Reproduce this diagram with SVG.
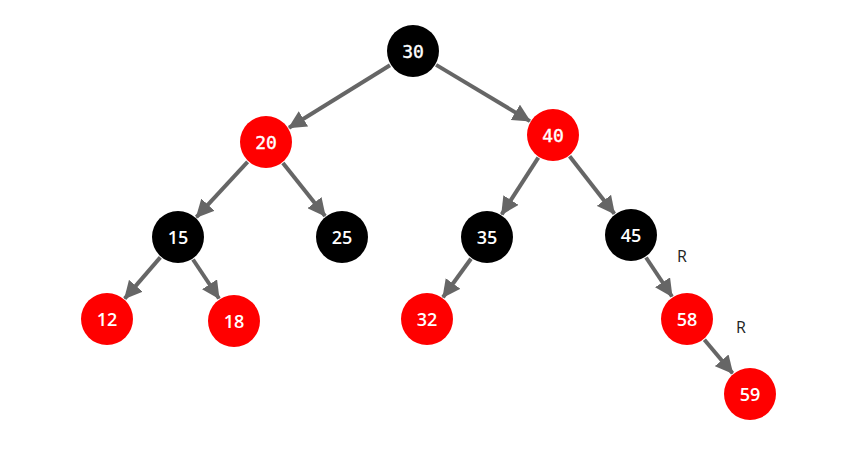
<svg xmlns="http://www.w3.org/2000/svg" width="851" height="451" viewBox="0 0 851 451">
<style>
.e{stroke:#666;stroke-width:4;fill:none;marker-end:url(#ah)}
.b{fill:#000}
.r{fill:#f00}
.t{fill:#fff;font-family:"Open Sans","Liberation Sans",sans-serif;font-size:18px;font-weight:600;text-anchor:middle;dominant-baseline:central}
.m{font-family:"DejaVu Sans Mono","Liberation Mono",monospace;font-weight:normal;font-size:18px;stroke:#fff;stroke-width:0.4}
.l{fill:#222;font-family:"Open Sans","Liberation Sans",sans-serif;font-size:16px;text-anchor:middle;dominant-baseline:central}
</style>
<defs>
<marker id="ah" markerUnits="userSpaceOnUse" markerWidth="18" markerHeight="18" viewBox="0 0 18 18" refX="17" refY="9" orient="auto">
<path d="M0,0 L18,9 L0,18 z" fill="#666"/>
</marker>
</defs>
<g id="connectors">
<line class="e" x1="390" y1="65.2" x2="289" y2="127.8"/>
<line class="e" x1="436.1" y1="64.9" x2="529.9" y2="121.1"/>
<line class="e" x1="247.6" y1="161.8" x2="196.4" y2="217.2"/>
<line class="e" x1="282.9" y1="163.1" x2="325.1" y2="215.9"/>
<line class="e" x1="538.3" y1="157.7" x2="501.7" y2="214.3"/>
<line class="e" x1="569.6" y1="156.3" x2="614.4" y2="213.7"/>
<line class="e" x1="160.3" y1="257.4" x2="124.7" y2="298.6"/>
<line class="e" x1="193" y1="259.5" x2="219" y2="298.5"/>
<line class="e" x1="471" y1="258.8" x2="443" y2="297.2"/>
<line class="e" x1="646" y1="257.5" x2="672" y2="296.5"/>
<line class="e" x1="704.4" y1="339.7" x2="732.6" y2="373.3"/>
</g>
<g id="n30"><circle class="b" cx="413" cy="51" r="26"/><text class="t m" x="413" y="51">30</text></g>
<g id="n20"><circle class="r" cx="266" cy="142" r="26"/><text class="t m" x="266" y="142">20</text></g>
<g id="n40"><circle class="r" cx="553" cy="135" r="26"/><text class="t m" x="553" y="135">40</text></g>
<g id="n15"><circle class="b" cx="178" cy="237" r="26"/><text class="t" x="178" y="237">15</text></g>
<g id="n25"><circle class="b" cx="342" cy="237" r="26"/><text class="t" x="342" y="237">25</text></g>
<g id="n35"><circle class="b" cx="487" cy="237" r="26"/><text class="t" x="487" y="237">35</text></g>
<g id="n45"><circle class="b" cx="631" cy="235" r="26"/><text class="t" x="631" y="235">45</text></g>
<g id="n12"><circle class="r" cx="107" cy="319" r="26"/><text class="t" x="107" y="319">12</text></g>
<g id="n18"><circle class="r" cx="234" cy="321" r="26"/><text class="t" x="234" y="321">18</text></g>
<g id="n32"><circle class="r" cx="427" cy="319" r="26"/><text class="t" x="427" y="319">32</text></g>
<g id="n58"><circle class="r" cx="687" cy="319" r="26"/><text class="t" x="687" y="319">58</text></g>
<g id="n59"><circle class="r" cx="750" cy="394" r="26"/><text class="t" x="750" y="394">59</text></g>
<g id="labels">
<text class="l" x="682" y="256">R</text>
<text class="l" x="741" y="327">R</text>
</g>
</svg>
